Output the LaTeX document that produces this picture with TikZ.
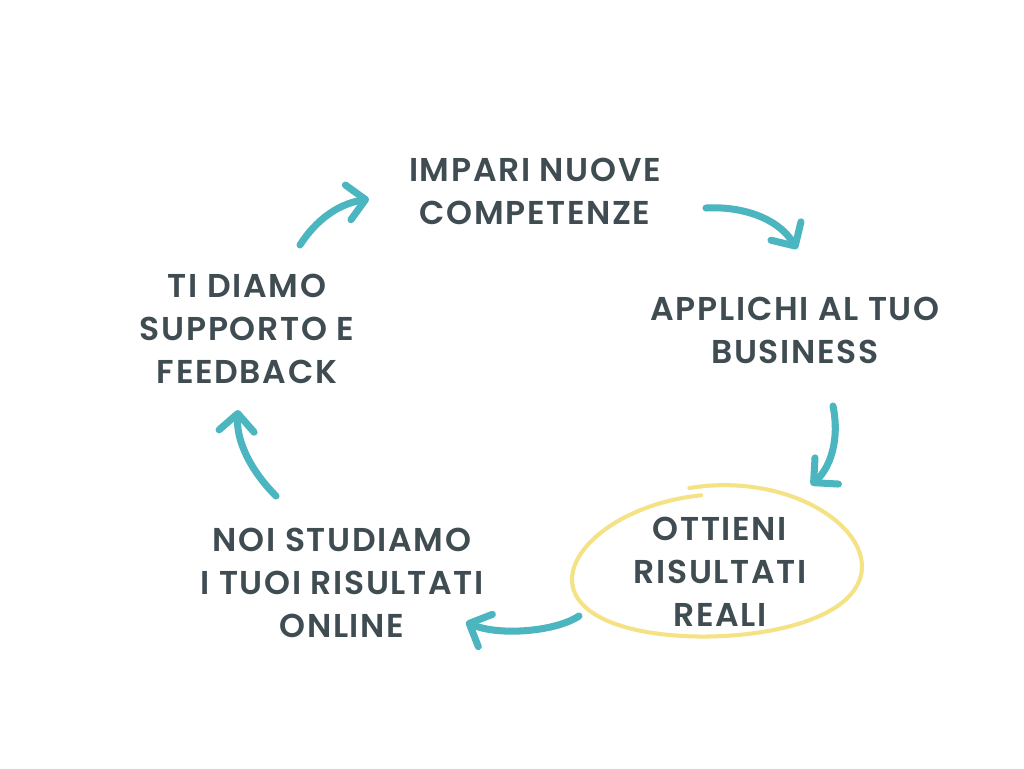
\documentclass[tikz,border=0pt]{standalone}
\usepackage{fontspec}
\setmainfont{Poppins}[BoldFont={Poppins SemiBold}, BoldFeatures={LetterSpace=5}]
\usepackage{tikz}
\usetikzlibrary{arrows.meta,calc}
\definecolor{cyclefill}{HTML}{4BB5C0}
\definecolor{txtdark}{HTML}{3F4C52}
\definecolor{ringyel}{HTML}{F4E285}

\tikzset{
  stage/.style={align=center, text=txtdark, font=\bfseries\fontsize{18.8}{24.4}\selectfont, inner sep=0pt},
  flow/.style={draw=cyclefill, line width=4pt, line cap=round, line join=round,
    -{Straight Barb[length=10pt,width=20pt,line width=4pt,round]}}
}

\begin{document}
\begin{tikzpicture}[x=0.02cm, y=-0.02cm]
  \useasboundingbox[fill=white] (0,0) rectangle (1024,768);

  % the five stages of the cycle
  \node[stage] (impari)   at (535,191) {IMPARI NUOVE\\COMPETENZE};
  \node[stage] (applichi) at (795,330) {APPLICHI AL TUO\\BUSINESS};
  \node[stage] (ottieni)  at (720,572) {OTTIENI\\RISULTATI\\REALI};
  \node[stage] (studiamo) at (342,583) {NOI STUDIAMO\\I TUOI RISULTATI\\ONLINE};
  \node[stage] (supporto) at (247,329) {TI DIAMO\\SUPPORTO E\\FEEDBACK};

  % hand drawn ring round the result
  \draw[ringyel, line width=2.3pt, line cap=round]
    plot[smooth, variable=\s, domain=0:1, samples=60]
    ({717+145*cos(101-365*\s)},
     {573-(78+10*sin(101-365*\s)-9*\s)*sin(101-365*\s)-6.5*cos(101-365*\s)});

  % arrow ends
  \coordinate (a1s) at (300,245); \coordinate (a1e) at (369,199);
  \coordinate (a2s) at (706,208); \coordinate (a2e) at (797,249);
  \coordinate (a3s) at (833,406); \coordinate (a3e) at (811,485);
  \coordinate (a4s) at (579,616); \coordinate (a4e) at (466,622);
  \coordinate (a5s) at (276,496); \coordinate (a5e) at (238,410);

  % arrows round the cycle
  \draw[flow] (a1s) .. controls (316,220) and (338,204) .. (a1e);
  \draw[flow] (a2s) .. controls (742,206) and (778,218) .. (a2e);
  \draw[flow] (a3s) .. controls (840,440) and (830,468) .. (a3e);
  \draw[flow] (a4s) .. controls (555,632) and (498,636) .. (a4e);
  \draw[flow] (a5s) .. controls (250,470) and (236,440) .. (a5e);
\end{tikzpicture}
\end{document}
